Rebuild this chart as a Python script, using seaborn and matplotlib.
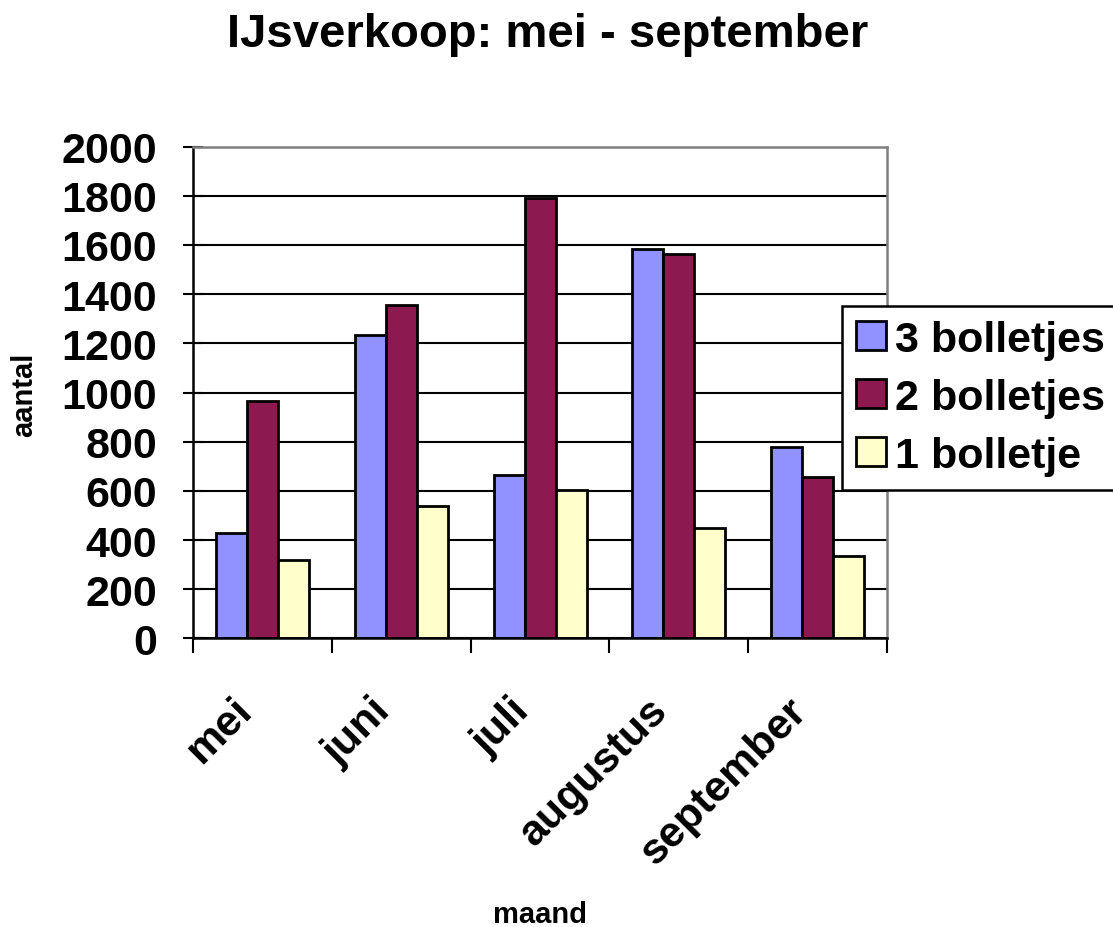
import matplotlib
matplotlib.use("Agg")
import matplotlib.pyplot as plt
import matplotlib.transforms as mtransforms
import pandas as pd
import seaborn as sns

# data
maanden = ["mei", "juni", "juli", "augustus", "september"]
drie_bolletjes = [430, 1235, 665, 1585, 780]
twee_bolletjes = [965, 1355, 1790, 1565, 655]
een_bolletje = [320, 540, 605, 450, 335]
series = ["3 bolletjes", "2 bolletjes", "1 bolletje"]
kleuren = ["#9191FF", "#8C1A50", "#FFFFCC"]
y_ticks = [0, 200, 400, 600, 800, 1000, 1200, 1400, 1600, 1800, 2000]

df = pd.DataFrame({
    "maand": maanden * 3,
    "aantal": drie_bolletjes + twee_bolletjes + een_bolletje,
    "soort": [series[0]] * 5 + [series[1]] * 5 + [series[2]] * 5,
})

sns.set_style("white")
plt.rcParams["font.family"] = ["Liberation Sans", "DejaVu Sans"]
plt.rcParams["font.weight"] = "bold"
for key in ["text.color", "axes.labelcolor", "xtick.color", "ytick.color"]:
    plt.rcParams[key] = "black"

fig = plt.figure(figsize=(11.13, 9.28), dpi=100)
ax = fig.add_axes([0.1734, 0.3109, 0.6236, 0.5301])

sns.barplot(data=df, x="maand", y="aantal", hue="soort", order=maanden,
            hue_order=series, palette=kleuren, width=0.67, ax=ax,
            edgecolor="black", linewidth=2, saturation=1)

ax.set_ylim(0, 2000)
ax.set_xlim(-0.5, 4.5)
ax.set_yticks(y_ticks)
ax.set_yticklabels([str(v) for v in y_ticks], fontsize=31, fontweight="bold")
ax.yaxis.grid(True, color="black", linewidth=1.5)
ax.set_axisbelow(True)
ax.tick_params(axis="y", direction="inout", length=14, width=1.5, pad=19, left=True)

# category labels at centres, tick marks between categories
ax.set_xticks(range(len(maanden)))
ax.set_xticklabels(maanden, fontsize=31, fontweight="bold", rotation=45,
                   ha="right", va="top", rotation_mode="anchor")
ax.tick_params(axis="x", which="major", length=0, pad=37)
shift = mtransforms.ScaledTranslation(-0.31, 0, fig.dpi_scale_trans)
for lbl in ax.get_xticklabels():
    lbl.set_transform(lbl.get_transform() + shift)
ax.set_xticks([i - 0.5 for i in range(len(maanden) + 1)], minor=True)
ax.tick_params(axis="x", which="minor", direction="out", length=11, width=1.5, bottom=True)

for side in ["left", "bottom"]:
    ax.spines[side].set_color("black")
    ax.spines[side].set_linewidth(1.8)
for side in ["top", "right"]:
    ax.spines[side].set_visible(True)
    ax.spines[side].set_color("#808080")
    ax.spines[side].set_linewidth(1.8)

ax.set_xlabel("")
ax.set_ylabel("")
fig.text(540 / 1113, 5 / 928, "maand", fontsize=21, fontweight="bold",
         ha="center", va="baseline")
fig.text(24 / 1113, 533 / 928, "aantal", fontsize=21, fontweight="bold",
         ha="center", va="center", rotation=90)

leg = ax.legend(loc="upper left", bbox_to_anchor=(842 / 1113, 621 / 928),
                bbox_transform=fig.transFigure, fontsize=31, frameon=True,
                fancybox=False, edgecolor="black", framealpha=1,
                handlelength=0.7, handleheight=0.65, handletextpad=0.2,
                borderpad=0.32, labelspacing=0.42, borderaxespad=0)
leg.get_frame().set_linewidth(1.8)
for t in leg.get_texts():
    t.set_fontweight("bold")

fig.text(548 / 1113, 881 / 928, "IJsverkoop: mei - september", fontsize=34,
         fontweight="bold", ha="center", va="baseline")

fig.savefig("out.png", dpi=100)
